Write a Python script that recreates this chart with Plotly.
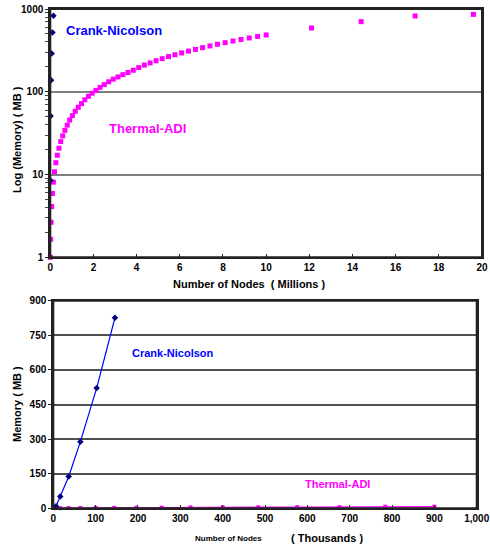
import plotly.graph_objects as go

# ---------------- data ----------------
# Top chart: Thermal-ADI (x in millions of nodes, memory in MB)
adi_nodes_m = [0.004, 0.016, 0.036, 0.064, 0.1, 0.144, 0.196, 0.256, 0.324, 0.4,
               0.484, 0.576, 0.676, 0.784, 0.9, 1.024, 1.156, 1.296, 1.444, 1.6,
               1.764, 1.936, 2.116, 2.304, 2.5, 2.704, 2.916, 3.136, 3.364, 3.6,
               3.844, 4.096, 4.356, 4.624, 4.9, 5.184, 5.476, 5.776, 6.084, 6.4,
               6.724, 7.056, 7.396, 7.744, 8.1, 8.464, 8.836, 9.216, 9.604, 10.0,
               12.1, 14.4, 16.9, 19.6]
adi_mem_top = [1.0, 1.65, 2.65, 4.1, 5.9, 8.1, 10.8, 13.9, 17.1, 20.8,
               25.0, 29.3, 34.2, 39.5, 45.5, 51.5, 58, 65, 72, 80,
               88, 96, 104, 113, 122, 132, 142, 151, 161, 171,
               182, 196, 210, 223, 237, 251, 266, 280, 295, 310,
               325, 341, 358, 375, 392, 410, 428, 447, 466, 486,
               590, 703, 824, 861]

# Crank-Nicolson (x in thousands of nodes, memory in MB)
cn_nodes_k = [6.4, 16.4, 36.4, 64, 102.4, 145.6]
cn_mem = [8.5, 51, 138, 289, 521, 826]

# Bottom chart: Thermal-ADI (x in thousands of nodes)
adi_nodes_k = [4, 16, 36, 64, 100, 144, 196, 256, 324, 400, 484, 576, 676, 784, 900]
adi_mem_bottom = [0.5, 0.7, 1, 1.3, 1.6, 2, 2.4, 2.8, 4, 4.5, 4.5, 5, 5, 7, 7]

top_x_ticks = [0, 2, 4, 6, 8, 10, 12, 14, 16, 18, 20]
top_y_ticks = [1, 10, 100, 1000]
top_y_minor = [2, 3, 4, 5, 6, 7, 8, 9, 20, 30, 40, 50, 60, 70, 80, 90,
               200, 300, 400, 500, 600, 700, 800, 900]
bot_x_ticks = [0, 100, 200, 300, 400, 500, 600, 700, 800, 900, 1000]
bot_y_ticks = [0, 150, 300, 450, 600, 750, 900]

FONT = "Liberation Sans, Arial, sans-serif"
MAG = "#FF00FF"
NAVY = "#000080"
BLUE = "#0000FF"

W, H = 490, 548
def fx(px):
    return px / W
def fy(py):
    return 1 - py / H

fig = go.Figure()

# top chart traces
fig.add_trace(go.Scatter(
    x=adi_nodes_m, y=adi_mem_top, mode="markers",
    marker=dict(symbol="square", size=5, color=MAG),
    xaxis="x", yaxis="y", showlegend=False, cliponaxis=False))
fig.add_trace(go.Scatter(
    x=[v / 1000 for v in cn_nodes_k], y=cn_mem, mode="markers",
    marker=dict(symbol="diamond", size=5, color=NAVY),
    xaxis="x", yaxis="y", showlegend=False, cliponaxis=False))

# bottom chart traces
fig.add_trace(go.Scatter(
    x=adi_nodes_k, y=adi_mem_bottom, mode="lines+markers",
    line=dict(color=MAG, width=1.5),
    marker=dict(symbol="square", size=4, color=MAG),
    xaxis="x2", yaxis="y2", showlegend=False, cliponaxis=False))
fig.add_trace(go.Scatter(
    x=cn_nodes_k, y=cn_mem, mode="lines+markers",
    line=dict(color=BLUE, width=1.2),
    marker=dict(symbol="diamond", size=5, color=NAVY),
    xaxis="x2", yaxis="y2", showlegend=False, cliponaxis=False))

tickfont = dict(family=FONT, size=10, color="black", weight="bold")

common = dict(zeroline=False, showline=True, linecolor="#222", linewidth=2,
              mirror=True, ticklen=3, tickcolor="#222", tickfont=tickfont,
              automargin=False, ticklabeloverflow="allow")

fig.update_layout(
    width=W, height=H,
    margin=dict(l=0, r=0, t=0, b=0, autoexpand=False),
    paper_bgcolor="white", plot_bgcolor="white",
    font=dict(family=FONT, color="black"),
    xaxis=dict(domain=[fx(50.3), fx(482)], range=[0, 20], tickvals=top_x_ticks,
               showgrid=False, ticks="inside", anchor="y", **common),
    yaxis=dict(domain=[fy(257.3), fy(9)], type="log", range=[0, 3],
               tickvals=top_y_ticks, ticktext=["1", "10", "100", "1000"],
               showgrid=True, gridcolor="#808080", gridwidth=2,
               ticks="outside",
               minor=dict(tickvals=top_y_minor, ticks="outside", ticklen=3,
                          tickcolor="#444", tickwidth=1, showgrid=False),
               anchor="x", **common),
    xaxis2=dict(domain=[fx(53.3), fx(476.7)], range=[0, 1000], tickvals=bot_x_ticks,
                tickformat=",d", showgrid=False, ticks="inside", anchor="y2", **common),
    yaxis2=dict(domain=[fy(508.3), fy(300.7)], range=[0, 900], tickvals=bot_y_ticks,
                showgrid=True, gridcolor="#505050", gridwidth=1.5,
                ticks="outside", anchor="x2", **common),
)

# frame around both plot areas
for xr, yr in (("x domain", "y domain"), ("x2 domain", "y2 domain")):
    fig.add_shape(type="rect", xref=xr, yref=yr, x0=0, x1=1, y0=0, y1=1,
                  line=dict(color="#222", width=2), fillcolor="rgba(0,0,0,0)",
                  layer="above")

def ann(text, x, y, size, color="black", angle=0, xanchor="center"):
    fig.add_annotation(text=text, x=x, y=y, xref="paper", yref="paper",
                       showarrow=False, textangle=angle, xanchor=xanchor,
                       yanchor="middle",
                       font=dict(family=FONT, size=size, color=color, weight="bold"))

# top labels
ann("Crank-Nicolson", fx(64), fy(31), 13, BLUE, xanchor="left")
ann("Thermal-ADI", fx(107), fy(128.5), 13, MAG, xanchor="left")
ann("Log (Memory) ( MB )", fx(17), fy(140), 11, angle=-90)
ann("Number of Nodes  ( Millions )", fx(249), fy(283.5), 11)

# bottom labels
ann("Crank-Nicolson", fx(129.5), fy(353), 11, BLUE, xanchor="left")
ann("Thermal-ADI", fx(302.5), fy(484), 11, MAG, xanchor="left")
ann("Memory ( MB )", fx(17), fy(404), 11, angle=-90)
ann("Number of Nodes", fx(192.5), fy(538), 8, xanchor="left")
ann("( Thousands )", fx(289), fy(538), 11, xanchor="left")

fig.write_html(
    "out.html",
    config={"displayModeBar": False},
    post_script="document.body.style.margin='0';document.body.style.overflow='hidden';",
)
